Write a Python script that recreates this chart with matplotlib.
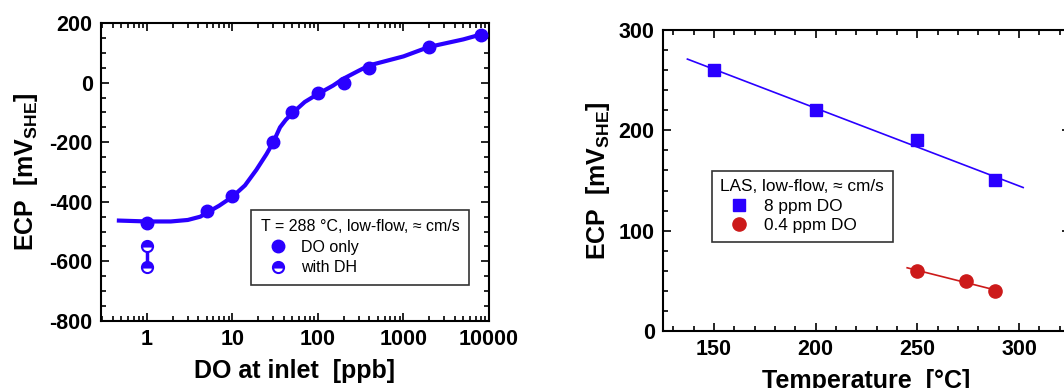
import numpy as np
import matplotlib.pyplot as plt
from matplotlib.ticker import MultipleLocator, LogLocator, NullFormatter, FixedLocator

plt.rcParams['font.family'] = ['Liberation Sans', 'DejaVu Sans']
plt.rcParams['axes.unicode_minus'] = False
plt.rcParams['mathtext.fontset'] = 'custom'
plt.rcParams['mathtext.rm'] = 'Liberation Sans'
plt.rcParams['mathtext.bf'] = 'Liberation Sans:bold'

BLUE = '#2a00ff'
RED = '#cc1a1a'

# left panel: ECP vs DO at inlet (288 C)
do_ppb = [1, 5, 10, 30, 50, 100, 200, 400, 2000, 8000]
ecp_do = [-470, -430, -380, -200, -100, -35, 0, 50, 120, 160]
dh_ppb = [1, 1]
ecp_dh = [-550, -620]
fit_ppb = [0.47, 1, 1.9, 3, 4.2, 5, 7, 10, 14, 19, 25, 30, 36, 42, 50, 70, 100, 150,
           195, 300, 400, 1000, 2000, 5000, 8900]
fit_ecp = [-463, -466, -466, -461, -450, -437, -413, -383, -345, -293, -240, -200,
           -150, -125, -103, -65, -38, -10, 12, 40, 58, 88, 120, 145, 165]

# right panel: ECP vs temperature (LAS)
temp_8 = [150, 200, 250, 288]
ecp_8 = [260, 220, 190, 150]
fit8_t = [137, 302]
fit8_ecp = [271, 143]
temp_04 = [250, 274, 288]
ecp_04 = [60, 50, 40]
fit04_t = [245, 290]
fit04_ecp = [63, 40]

fig = plt.figure(figsize=(10.64, 3.88), dpi=100)
ax1 = fig.add_axes([0.0949, 0.1727, 0.3647, 0.768])
ax2 = fig.add_axes([0.6231, 0.1469, 0.3825, 0.7758])

label_font = dict(fontsize=18, fontweight='bold')
ylab = r'ECP  [mV$_{\mathbf{SHE}}$]'
leg_kw = dict(frameon=True, fancybox=False, edgecolor='black', handletextpad=0.35,
              handlelength=2.2, borderaxespad=0)


def style_axes(ax):
    ax.tick_params(which='both', direction='in', top=True, right=True, width=1.2,
                   labelsize=15.5, pad=6)
    ax.tick_params(which='major', length=6)
    ax.tick_params(which='minor', length=3.5)
    for lab in ax.get_xticklabels() + ax.get_yticklabels():
        lab.set_fontweight('bold')
    for sp in ax.spines.values():
        sp.set_linewidth(1.5)


# ---- left panel
ax1.plot(fit_ppb, fit_ecp, color=BLUE, lw=3, zorder=2)
ax1.plot(do_ppb, ecp_do, 'o', color=BLUE, ms=9, zorder=3, label='DO only')
ax1.plot(dh_ppb, ecp_dh, '-', color=BLUE, lw=2.5, zorder=2)
ax1.plot(dh_ppb, ecp_dh, 'o', color=BLUE, ms=8, fillstyle='top',
         markerfacecoloralt='white', mec=BLUE, mew=1.5, zorder=3, label='with DH')
ax1.set_xscale('log')
ax1.set_xlim(0.29, 10000)
ax1.set_ylim(-800, 200)
ax1.xaxis.set_major_locator(FixedLocator([1, 10, 100, 1000, 10000]))
ax1.set_xticklabels(['1', '10', '100', '1000', '10000'])
ax1.xaxis.set_minor_locator(LogLocator(base=10, subs=np.arange(2, 10), numticks=20))
ax1.xaxis.set_minor_formatter(NullFormatter())
ax1.yaxis.set_major_locator(MultipleLocator(200))
ax1.yaxis.set_minor_locator(MultipleLocator(50))
style_axes(ax1)
ax1.set_xlabel('DO at inlet  [ppb]', labelpad=6, **label_font)
ax1.set_ylabel(ylab, labelpad=7, **label_font)
leg1 = ax1.legend(title='T = 288 °C, low-flow, ≈ cm/s', loc='lower right',
                  bbox_to_anchor=(0.948, 0.121), fontsize=11.5, title_fontsize=11.5,
                  borderpad=0.6, labelspacing=0.35, **leg_kw)
leg1.get_frame().set_linewidth(1.2)
leg1._legend_box.align = 'left'

# ---- right panel
ax2.plot(fit8_t, fit8_ecp, color=BLUE, lw=1.2, zorder=2)
ax2.plot(temp_8, ecp_8, 's', color=BLUE, ms=9, zorder=3, label='8 ppm DO')
ax2.plot(fit04_t, fit04_ecp, color=RED, lw=1.2, zorder=2)
ax2.plot(temp_04, ecp_04, 'o', color=RED, ms=9.5, zorder=3, label='0.4 ppm DO')
ax2.set_xlim(125, 325)
ax2.set_ylim(0, 300)
ax2.xaxis.set_major_locator(MultipleLocator(50))
ax2.xaxis.set_minor_locator(MultipleLocator(10))
ax2.yaxis.set_major_locator(MultipleLocator(100))
ax2.yaxis.set_minor_locator(MultipleLocator(20))
style_axes(ax2)
ax2.set_xlabel('Temperature  [°C]', labelpad=6, **label_font)
ax2.set_ylabel(ylab, labelpad=5, **label_font)
leg2 = ax2.legend(title='LAS, low-flow, ≈ cm/s', loc='upper left',
                  bbox_to_anchor=(0.12, 0.532), fontsize=12.4, title_fontsize=12.4,
                  borderpad=0.5, labelspacing=0.25, **leg_kw)
leg2.get_frame().set_linewidth(1.2)
leg2._legend_box.align = 'left'

fig.savefig('out.png', dpi=100)
